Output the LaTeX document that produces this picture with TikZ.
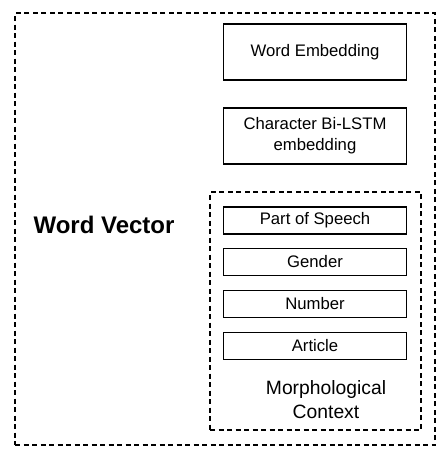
\documentclass[tikz,border=0pt]{standalone}
\usepackage{fontspec}
\setmainfont{Liberation Sans}
\begin{document}
\begin{tikzpicture}[x=1pt,y=-1pt,
  solidbox/.style={draw,line width=1.5pt,minimum width=183pt,inner sep=0pt,align=center,font=\fontsize{16.7pt}{21pt}\selectfont},
  dashbox/.style={draw,line width=1.6pt,dash pattern=on 5pt off 3.5pt,inner sep=0pt}]
\useasboundingbox (0,0) rectangle (446,458);
\node[dashbox,minimum width=420pt,minimum height=432pt] (outer) at (225,229) {};
\node[dashbox,minimum width=211pt,minimum height=238pt] (inner) at (315.5,311) {};
\node[solidbox,minimum height=56pt] (we) at (315,52) {Word Embedding};
\node[solidbox,minimum height=56pt] (cb) at (315,136) {Character Bi-LSTM\\embedding};
\node[solidbox,minimum height=27pt] (pos) at (315,220.5) {Part of Speech};
\node[solidbox,minimum height=27pt] (gen) at (315,262) {Gender};
\node[solidbox,minimum height=27pt] (num) at (315,304) {Number};
\node[solidbox,minimum height=27pt] (art) at (315,346) {Article};
\node[align=center,font=\fontsize{19.3pt}{24pt}\selectfont] (morph) at (326,400) {Morphological\\Context};
\node[font=\fontsize{24pt}{28pt}\selectfont\bfseries] (wv) at (104,225) {Word Vector};
\end{tikzpicture}
\end{document}
